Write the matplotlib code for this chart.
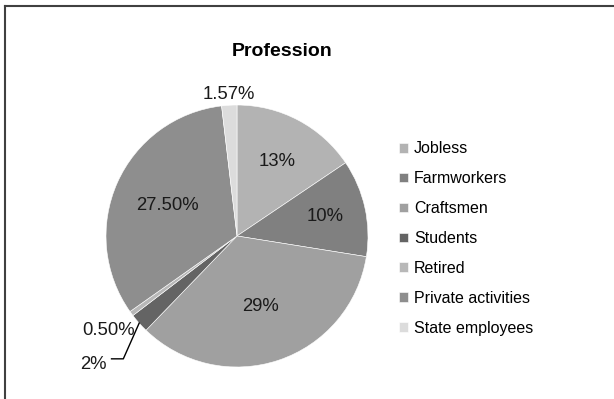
import numpy as np
import matplotlib.pyplot as plt
from matplotlib.lines import Line2D

plt.rcParams['font.family'] = ['Liberation Sans', 'DejaVu Sans']

# Data
professions = ["Jobless", "Farmworkers", "Craftsmen", "Students", "Retired",
               "Private activities", "State employees"]
shares = [13, 10, 29, 2, 0.5, 27.5, 1.57]
share_labels = ["13%", "10%", "29%", "2%", "0.50%", "27.50%", "1.57%"]
colors = ["#b3b3b3", "#808080", "#a0a0a0", "#646464", "#b8b8b8", "#8e8e8e", "#dcdcdc"]

# label distance from centre (in radii) for each slice
label_r = [0.645, 0.69, 0.57, 1.47, 1.22, 0.58, 1.08]

W, H = 614, 399
fig = plt.figure(figsize=(W / 100, H / 100), dpi=100)

# outer frame: only left and top edges are visible in the source
frame_kw = dict(transform=fig.transFigure, color="#404040", linewidth=1.5)
fig.add_artist(Line2D([5 / W, 5 / W], [0, 1 - 6 / H], **frame_kw))
fig.add_artist(Line2D([5 / W, 613 / W], [1 - 6 / H, 1 - 6 / H], **frame_kw))

cx, cy, r = 237, 236, 131
ax = fig.add_axes([(cx - r) / W, (H - cy - r) / H, 2 * r / W, 2 * r / H])

wedges, _ = ax.pie(shares, colors=colors, startangle=90, counterclock=False,
                   radius=1, wedgeprops=dict(edgecolor="white", linewidth=0.4))
ax.set_xlim(-1, 1)
ax.set_ylim(-1, 1)
ax.set_aspect("equal")
ax.axis("off")

for i, w in enumerate(wedges):
    mid = np.deg2rad((w.theta1 + w.theta2) / 2)
    x, y = label_r[i] * np.cos(mid), label_r[i] * np.sin(mid)
    ax.text(x, y, share_labels[i], ha="center", va="center", fontsize=13.3,
            color="#1a1a1a", clip_on=False)
    if share_labels[i] == "2%":
        ex, ey = np.cos(mid), np.sin(mid)
        ax.plot([ex, x + 0.23, x + 0.14], [ey, y + 0.04, y + 0.04],
                color="black", lw=1, clip_on=False)

fig.text(282 / W, 1 - 51 / H, "Profession", ha="center", va="center",
         fontsize=14, fontweight="bold")

fig.legend(wedges, professions, loc="center left",
           bbox_to_anchor=(399 / W, 1 - 238.5 / H), frameon=False,
           fontsize=11.5, handlelength=0.55, handleheight=0.55,
           handletextpad=0.4, labelspacing=0.93, borderpad=0,
           borderaxespad=0)

fig.savefig("out.png", dpi=100, facecolor="white")
